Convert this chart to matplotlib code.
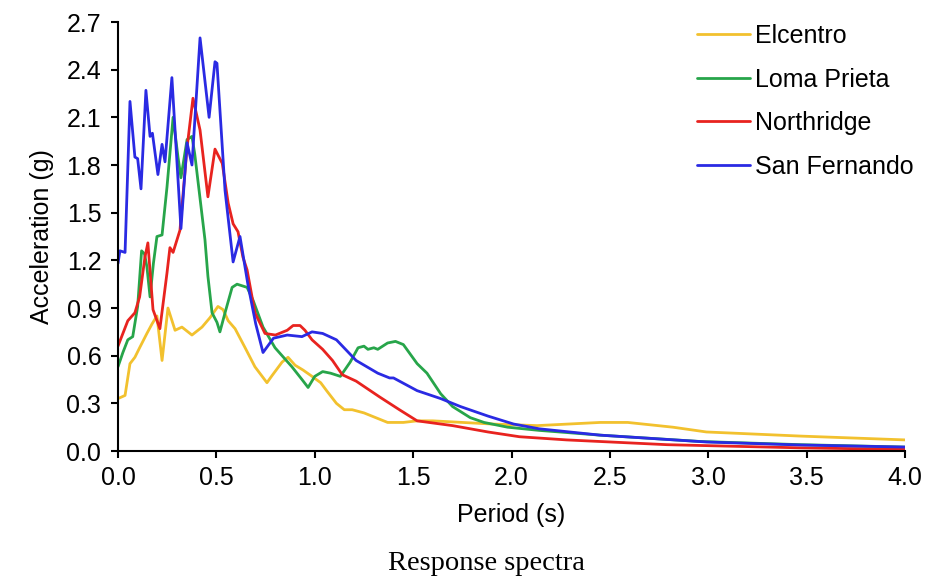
import matplotlib
matplotlib.use("Agg")
import matplotlib.pyplot as plt

plt.rcParams['font.family'] = ['Liberation Sans', 'DejaVu Sans']

# ---- data ----
el_T = [0.0, 0.036, 0.061, 0.086, 0.11, 0.147, 0.173, 0.198, 0.224, 0.254, 0.29, 0.325, 0.376, 0.427, 0.468,
        0.508, 0.534, 0.56, 0.595, 0.646, 0.696, 0.757, 0.78, 0.834, 0.864, 0.90, 0.94, 0.986, 1.03, 1.06,
        1.11, 1.15, 1.19, 1.25, 1.31, 1.37, 1.45, 1.52, 1.60, 1.75, 1.90, 2.13, 2.45, 2.59, 2.82, 2.99, 3.47, 4.0]
el_A = [0.33, 0.35, 0.55, 0.59, 0.65, 0.74, 0.80, 0.85, 0.57, 0.90, 0.76, 0.78, 0.73, 0.78, 0.84,
        0.91, 0.89, 0.82, 0.77, 0.65, 0.53, 0.43, 0.47, 0.56, 0.59, 0.54, 0.51, 0.47, 0.43, 0.38,
        0.30, 0.26, 0.26, 0.24, 0.21, 0.18, 0.18, 0.19, 0.19, 0.18, 0.17, 0.16, 0.18, 0.18, 0.15, 0.12, 0.094, 0.07]

lp_T = [0.0, 0.025, 0.05, 0.075, 0.10, 0.12, 0.135, 0.147, 0.163, 0.18, 0.198, 0.224, 0.249, 0.28, 0.305,
        0.32, 0.351, 0.376, 0.39, 0.442, 0.457, 0.478, 0.503, 0.518, 0.544, 0.58, 0.605, 0.656, 0.686, 0.737,
        0.798, 0.884, 0.935, 0.966, 1.0, 1.04, 1.08, 1.13, 1.18, 1.22, 1.25, 1.27, 1.30, 1.32, 1.37, 1.41,
        1.45, 1.52, 1.57, 1.64, 1.70, 1.79, 1.86, 1.98, 2.14, 2.45, 2.96, 3.47, 4.0]
lp_A = [0.53, 0.62, 0.70, 0.72, 0.91, 1.26, 1.24, 1.16, 0.97, 1.18, 1.35, 1.36, 1.66, 2.10, 1.85,
        1.72, 1.96, 1.98, 1.87, 1.33, 1.10, 0.87, 0.81, 0.75, 0.87, 1.03, 1.05, 1.03, 0.95, 0.78,
        0.65, 0.53, 0.45, 0.40, 0.47, 0.50, 0.49, 0.47, 0.56, 0.65, 0.66, 0.64, 0.65, 0.64, 0.68, 0.69,
        0.67, 0.55, 0.49, 0.36, 0.28, 0.21, 0.18, 0.15, 0.13, 0.10, 0.06, 0.04, 0.025]

nr_T = [0.0, 0.05, 0.086, 0.11, 0.137, 0.152, 0.178, 0.213, 0.249, 0.264, 0.28, 0.315, 0.351, 0.381, 0.417,
        0.457, 0.493, 0.53, 0.56, 0.585, 0.61, 0.635, 0.656, 0.696, 0.747, 0.80, 0.86, 0.89, 0.925, 0.95,
        0.986, 1.04, 1.09, 1.14, 1.21, 1.33, 1.43, 1.52, 1.70, 1.88, 2.04, 2.28, 2.79, 3.47, 4.0]
nr_A = [0.66, 0.82, 0.87, 0.97, 1.22, 1.31, 0.89, 0.77, 1.12, 1.28, 1.25, 1.39, 1.91, 2.22, 2.02,
        1.60, 1.90, 1.81, 1.56, 1.43, 1.38, 1.22, 1.14, 0.87, 0.74, 0.73, 0.76, 0.79, 0.79, 0.76,
        0.70, 0.64, 0.57, 0.48, 0.44, 0.34, 0.26, 0.19, 0.16, 0.12, 0.09, 0.07, 0.04, 0.02, 0.01]

sf_T = [0.0, 0.01, 0.036, 0.061, 0.086, 0.1, 0.117, 0.142, 0.163, 0.175, 0.203, 0.224, 0.239, 0.274, 0.305,
        0.32, 0.351, 0.376, 0.417, 0.463, 0.493, 0.503, 0.544, 0.585, 0.62, 0.66, 0.70, 0.737, 0.79, 0.86,
        0.935, 0.986, 1.04, 1.11, 1.21, 1.32, 1.38, 1.40, 1.52, 1.64, 1.74, 1.88, 2.01, 2.14, 2.45, 2.99,
        3.47, 4.0]
sf_A = [1.18, 1.26, 1.25, 2.20, 1.85, 1.84, 1.65, 2.27, 1.98, 2.0, 1.74, 1.93, 1.82, 2.35, 1.71,
        1.40, 1.94, 1.80, 2.60, 2.10, 2.45, 2.44, 1.64, 1.19, 1.35, 1.05, 0.80, 0.62, 0.71, 0.73,
        0.72, 0.75, 0.74, 0.70, 0.57, 0.49, 0.46, 0.46, 0.38, 0.33, 0.28, 0.22, 0.17, 0.14, 0.10, 0.057,
        0.038, 0.025]

names = ["Elcentro", "Loma Prieta", "Northridge", "San Fernando"]
colors = ["#F2C12E", "#27A54A", "#E8231F", "#2A2AE3"]
x_ticks = [0.0, 0.5, 1.0, 1.5, 2.0, 2.5, 3.0, 3.5, 4.0]
y_ticks = [0.0, 0.3, 0.6, 0.9, 1.2, 1.5, 1.8, 2.1, 2.4, 2.7]

FS = 18

fig = plt.figure(figsize=(9.4, 5.79), dpi=100)
ax = fig.add_axes([0.1255, 0.221, 0.8375, 0.741])

series = [(el_T, el_A), (lp_T, lp_A), (nr_T, nr_A), (sf_T, sf_A)]
for (t, a), name, c in zip(series, names, colors):
    ax.plot(t, a, color=c, lw=2.0, label=name, solid_joinstyle='round', solid_capstyle='round')

ax.set_xlim(0, 4.0)
ax.set_ylim(0, 2.7)
ax.set_xticks(x_ticks)
ax.set_xticklabels([f"{v:.1f}" for v in x_ticks])
ax.set_yticks(y_ticks)
ax.set_yticklabels([f"{v:.1f}" for v in y_ticks])
for s in ["top", "right"]:
    ax.spines[s].set_visible(False)
for s in ["left", "bottom"]:
    ax.spines[s].set_linewidth(1.5)
ax.tick_params(axis='both', direction='out', length=5, width=1.5, labelsize=FS)
ax.tick_params(axis='x', pad=6)
ax.tick_params(axis='y', pad=7)
ax.set_xlabel("Period (s)", fontsize=FS, labelpad=9)
ax.set_ylabel("Acceleration (g)", fontsize=FS, labelpad=9)

leg = ax.legend(loc='upper left', bbox_to_anchor=(0.7357, 0.995), frameon=False, fontsize=FS,
                handlelength=2.1, handletextpad=0.2, labelspacing=0.78,
                borderaxespad=0, borderpad=0)

fig.text(0.518, 0.027, "Response spectra", ha='center', va='center',
         fontsize=20.5, family=['Liberation Serif', 'DejaVu Serif'])

fig.savefig("out.png", dpi=100)
